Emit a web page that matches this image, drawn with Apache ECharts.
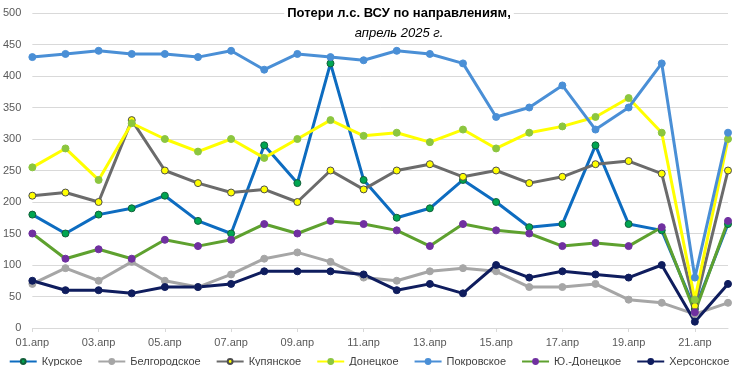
<!DOCTYPE html>
<html><head><meta charset="utf-8">
<script src="https://cdn.jsdelivr.net/npm/echarts@6/dist/echarts.min.js"></script>
<style>html,body{margin:0;padding:0;background:#fff}#c{width:738px;height:366px}</style>
</head><body><div id="c"></div>
<script>
const categories = ['01.апр','02.апр','03.апр','04.апр','05.апр','06.апр','07.апр','08.апр','09.апр','10.апр','11.апр','12.апр','13.апр','14.апр','15.апр','16.апр','17.апр','18.апр','19.апр','20.апр','21.апр','22.апр'];
const kurskoe      = [180,150,180,190,210,170,150,290,230,420,235,175,190,235,200,160,165,290,165,155,30,165];
const belgorodskoe = [70,95,75,105,75,65,85,110,120,105,80,75,90,95,90,65,65,70,45,40,22,40];
const kupyanskoe   = [210,215,200,330,250,230,215,220,200,250,220,250,260,240,250,230,240,260,265,245,35,250];
const donetskoe    = [255,285,235,325,300,280,300,270,300,330,305,310,295,315,285,310,320,335,365,310,45,300];
const pokrovskoe   = [430,435,440,435,435,430,440,410,435,430,425,440,435,420,335,350,385,315,350,420,80,310];
const yuDonetskoe  = [150,110,125,110,140,130,140,165,150,170,165,155,130,165,155,150,130,135,130,160,25,170];
const khersonskoe  = [75,60,60,55,65,65,70,90,90,90,85,60,70,55,100,80,90,85,80,100,10,70];
const yTicks = [0,50,100,150,200,250,300,350,400,450,500];

const FONT = 'Liberation Sans';
function s(name, data, line, mFill, mBorder) {
  return {
    name, type: 'line', data, symbol: 'circle', symbolSize: 7,
    lineStyle: { color: line, width: 3 },
    itemStyle: { color: mFill, borderColor: mBorder, borderWidth: 1 },
    emphasis: { disabled: true }
  };
}
const chart = echarts.init(document.getElementById('c'));
chart.setOption({
  animation: false,
  backgroundColor: '#fff',
  title: [
    { text: 'Потери л.с. ВСУ по направлениям,', left: 396, top: 5, textAlign: 'center', padding: [2,3],
      backgroundColor: '#fff',
      textStyle: { fontFamily: FONT, fontSize: 13, fontWeight: 'bold', color: '#000' } },
    { text: 'апрель 2025 г.', left: 396, top: 25, textAlign: 'center', padding: [2,3],
      backgroundColor: '#fff',
      textStyle: { fontFamily: FONT, fontSize: 13, fontWeight: 'normal', fontStyle: 'italic', color: '#000' } }
  ],
  grid: { left: 30, right: 10, top: 13, bottom: 38, containLabel: false },
  legend: {
    top: 351, left: 'center', itemWidth: 27, itemHeight: 6, itemGap: 15,
    textStyle: { fontFamily: FONT, fontSize: 11, color: '#404040' },
    data: ['Курское','Белгородское','Купянское','Донецкое','Покровское','Ю.-Донецкое','Херсонское']
  },
  xAxis: {
    type: 'category', data: categories, boundaryGap: false,
    axisLine: { lineStyle: { color: '#d9d9d9' } },
    axisTick: { show: true, interval: 1, length: 4, lineStyle: { color: '#d9d9d9' } },
    axisLabel: { interval: 1, fontFamily: FONT, fontSize: 11, color: '#595959', margin: 9 }
  },
  yAxis: {
    type: 'value', min: 0, max: 500, interval: 50,
    axisLine: { show: false }, axisTick: { show: false },
    splitLine: { lineStyle: { color: '#d9d9d9' } },
    axisLabel: { fontFamily: FONT, fontSize: 11, color: '#595959', margin: 11,
      formatter: v => yTicks.includes(v) ? String(v) : '' }
  },
  series: [
    s('Курское', kurskoe, '#0d6cc0', '#00a651', '#13603a'),
    s('Белгородское', belgorodskoe, '#a6a6a6', '#a6a6a6', '#a6a6a6'),
    s('Купянское', kupyanskoe, '#6b6b6b', '#ffff00', '#4d4d4d'),
    s('Донецкое', donetskoe, '#ffff00', '#8cc63f', '#8cc63f'),
    s('Покровское', pokrovskoe, '#4a8fd6', '#4a8fd6', '#4a8fd6'),
    s('Ю.-Донецкое', yuDonetskoe, '#5ea12f', '#7030a0', '#7030a0'),
    s('Херсонское', khersonskoe, '#0f1d5e', '#0f1d5e', '#0f1d5e')
  ]
});
</script></body></html>
